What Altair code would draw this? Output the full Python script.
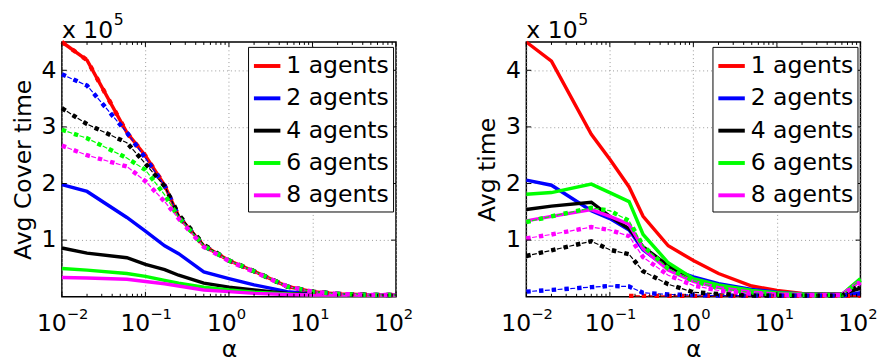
import altair as alt
import pandas as pd

FONT = "DejaVu Sans"

alpha = [0.01, 0.02, 0.06, 0.1, 0.17, 0.25, 0.5, 1, 2, 5, 10, 20, 60, 100]
agents = ["1 agents", "2 agents", "4 agents", "6 agents", "8 agents"]
colors = ["#ff0000", "#0000ff", "#000000", "#00ff00", "#ff00ff"]

# values in units of 1e5
# Left panel (Avg Cover time) - solid lines
L_s1 = [4.5, 4.18, 2.9, 2.49, 1.97, 1.42, 0.9, 0.64, 0.45, 0.18, 0.09, 0.05, 0.03, 0.03]
L_s2 = [1.98, 1.86, 1.4, 1.16, 0.9, 0.76, 0.44, 0.32, 0.21, 0.09, 0.05, 0.03, 0.03, 0.03]
L_s4 = [0.86, 0.77, 0.69, 0.57, 0.48, 0.38, 0.24, 0.17, 0.12, 0.06, 0.04, 0.03, 0.03, 0.03]
L_s6 = [0.5, 0.47, 0.41, 0.36, 0.29, 0.24, 0.17, 0.12, 0.08, 0.05, 0.03, 0.03, 0.03, 0.03]
L_s8 = [0.34, 0.33, 0.31, 0.27, 0.23, 0.19, 0.12, 0.09, 0.06, 0.04, 0.03, 0.03, 0.03, 0.03]
# Left panel - dash-dot lines
L_d1 = [4.5, 4.18, 2.9, 2.49, 1.97, 1.42, 0.9, 0.64, 0.45, 0.18, 0.09, 0.05, 0.03, 0.03]
L_d2 = [3.93, 3.73, 2.9, 2.45, 1.96, 1.42, 0.9, 0.64, 0.45, 0.18, 0.09, 0.05, 0.03, 0.03]
L_d4 = [3.33, 3.05, 2.72, 2.35, 1.95, 1.45, 0.92, 0.64, 0.45, 0.18, 0.09, 0.05, 0.03, 0.03]
L_d6 = [2.95, 2.8, 2.45, 2.24, 1.8, 1.4, 0.9, 0.64, 0.45, 0.18, 0.09, 0.05, 0.03, 0.03]
L_d8 = [2.67, 2.5, 2.3, 2.04, 1.68, 1.38, 0.88, 0.63, 0.44, 0.18, 0.09, 0.05, 0.03, 0.03]

# Right panel (Avg time) - solid lines
R_s1 = [4.5, 4.16, 2.87, 2.43, 1.94, 1.42, 0.9, 0.64, 0.41, 0.19, 0.11, 0.06, 0.04, 0.03]
R_s2 = [2.06, 1.97, 1.52, 1.38, 1.18, 0.83, 0.5, 0.35, 0.23, 0.13, 0.08, 0.05, 0.04, 0.06]
R_s4 = [1.54, 1.6, 1.67, 1.42, 1.2, 0.88, 0.55, 0.29, 0.17, 0.09, 0.06, 0.05, 0.05, 0.15]
R_s6 = [1.81, 1.84, 1.99, 1.84, 1.68, 1.1, 0.6, 0.32, 0.21, 0.11, 0.07, 0.05, 0.04, 0.32]
R_s8 = [1.34, 1.42, 1.54, 1.42, 1.28, 0.85, 0.47, 0.27, 0.16, 0.08, 0.05, 0.04, 0.04, 0.28]
# Right panel - dash-dot lines
R_d1 = [None, None, None, None, 0.015, 0.015, 0.015, 0.015, 0.015, 0.015, 0.015, 0.015, 0.015, 0.015]
R_d2 = [0.09, 0.12, 0.17, 0.19, 0.18, 0.07, 0.04, 0.03, 0.02, 0.02, 0.02, 0.02, 0.02, 0.06]
R_d4 = [0.72, 0.82, 0.98, 0.83, 0.75, 0.45, 0.22, 0.08, 0.05, 0.02, 0.02, 0.02, 0.02, 0.2]
R_d6 = [1.32, 1.42, 1.57, 1.52, 1.34, 0.9, 0.5, 0.28, 0.15, 0.07, 0.04, 0.03, 0.03, 0.3]
R_d8 = [1.03, 1.1, 1.23, 1.18, 1.07, 0.7, 0.38, 0.2, 0.11, 0.05, 0.03, 0.03, 0.03, 0.25]

x_major = [0.01, 0.1, 1, 10, 100]
x_minor = [0.02, 0.03, 0.04, 0.05, 0.06, 0.07, 0.08, 0.09,
           0.2, 0.3, 0.4, 0.5, 0.6, 0.7, 0.8, 0.9,
           2, 3, 4, 5, 6, 7, 8, 9,
           20, 30, 40, 50, 60, 70, 80, 90]
y_major = [1, 2, 3, 4]
x_exp = ["\u22122", "\u22121", "0", "1", "2"]
x_exp_kind = ["neg", "neg", "pos", "pos", "pos"]
scale_base = ["x 10"]
scale_exp = ["5"]

W, H = 341, 260


def to_long(series_list):
    rows = []
    for name, vals in zip(agents, series_list):
        for a, v in zip(alpha, vals):
            if v is not None:
                rows.append({"alpha": a, "value": v, "agents": name})
    return pd.DataFrame(rows)


xscale = alt.Scale(type="log", domain=[0.01, 100], nice=False)
yscale = alt.Scale(domain=[0, 4.5], nice=False, zero=False)
cscale = alt.Scale(domain=agents, range=colors)


def panel(solid, dashdot, ytitle):
    sdf = to_long(solid)
    ddf = to_long(dashdot)

    x_axis = alt.Axis(values=x_major, grid=True, gridDash=[1, 3], gridColor="#999999",
                      labels=False, ticks=False, domain=False, title="α",
                      titleFont=FONT, titleFontSize=24, titleFontWeight="normal",
                      titleColor="black", titlePadding=42)
    y_axis = alt.Axis(values=y_major, grid=True, gridDash=[1, 3], gridColor="#999999",
                      ticks=False, domain=False, title=ytitle,
                      labelFont=FONT, labelFontSize=24, labelColor="black", labelPadding=6,
                      titleFont=FONT, titleFontSize=24, titleFontWeight="normal",
                      titleColor="black", titlePadding=6)
    xa = alt.X("alpha:Q", scale=xscale, axis=x_axis)
    ya = alt.Y("value:Q", scale=yscale, axis=y_axis)
    color_leg = alt.Color("agents:N", scale=cscale,
                          legend=alt.Legend(orient="none", legendX=190, legendY=5, title=None,
                                            labelFont=FONT, labelFontSize=24, labelColor="black",
                                            symbolType="stroke", symbolSize=729, symbolStrokeWidth=4,
                                            strokeColor="black", fillColor="white", padding=4,
                                            rowPadding=5, labelOffset=4, cornerRadius=0))
    color_nl = alt.Color("agents:N", scale=cscale, legend=None)

    solid_layer = alt.Chart(sdf).mark_line(strokeWidth=3.5).encode(x=xa, y=ya, color=color_leg)
    dd_thin = alt.Chart(ddf).mark_line(strokeWidth=1.2, strokeDash=[4, 2, 5, 2]).encode(x=xa, y=ya, color=color_nl)
    dd_thick = alt.Chart(ddf).mark_line(strokeWidth=4.5, strokeDash=[4.5, 8.5]).encode(x=xa, y=ya, color=color_nl)

    xmaj = pd.DataFrame({"alpha": x_major})
    xmin = pd.DataFrame({"alpha": x_minor})
    ymaj = pd.DataFrame({"value": y_major})
    rk = dict(color="black", strokeWidth=1)
    t_xb = alt.Chart(xmaj).mark_rule(**rk).encode(x=xa, y=alt.value(H), y2=alt.value(H - 5))
    t_xt = alt.Chart(xmaj).mark_rule(**rk).encode(x=xa, y=alt.value(0), y2=alt.value(5))
    t_mb = alt.Chart(xmin).mark_rule(**rk).encode(x=xa, y=alt.value(H), y2=alt.value(H - 3))
    t_mt = alt.Chart(xmin).mark_rule(**rk).encode(x=xa, y=alt.value(0), y2=alt.value(3))
    t_yl = alt.Chart(ymaj).mark_rule(**rk).encode(y=ya, x=alt.value(0), x2=alt.value(5))
    t_yr = alt.Chart(ymaj).mark_rule(**rk).encode(y=ya, x=alt.value(W - 5), x2=alt.value(W))

    lab = pd.DataFrame({"alpha": x_major, "exp": x_exp, "kind": x_exp_kind, "base": ["10"] * 5})
    tl = []
    for kind, dx in (("neg", 5), ("pos", 8)):
        base = alt.Chart(lab).transform_filter(alt.datum.kind == kind).mark_text(
            font=FONT, fontSize=24, align="right", baseline="alphabetic", dx=dx, color="black"
        ).encode(x=xa, y=alt.value(295), text="base:N")
        exp = alt.Chart(lab).transform_filter(alt.datum.kind == kind).mark_text(
            font=FONT, fontSize=15, align="left", baseline="alphabetic", dx=dx, color="black"
        ).encode(x=xa, y=alt.value(283), text="exp:N")
        tl += [base, exp]

    sb = alt.Chart(pd.DataFrame({"t": scale_base})).mark_text(
        font=FONT, fontSize=24, align="left", baseline="alphabetic", color="black"
    ).encode(x=alt.value(0), y=alt.value(-4), text="t:N")
    se = alt.Chart(pd.DataFrame({"t": scale_exp})).mark_text(
        font=FONT, fontSize=16, align="left", baseline="alphabetic", color="black"
    ).encode(x=alt.value(53), y=alt.value(-17), text="t:N")

    return alt.layer(solid_layer, dd_thin, dd_thick, t_xb, t_xt, t_mb, t_mt, t_yl, t_yr,
                     *tl, sb, se).properties(width=W, height=H)


left = panel([L_s1, L_s2, L_s4, L_s6, L_s8], [L_d1, L_d2, L_d4, L_d6, L_d8], "Avg Cover time")
right = panel([R_s1, R_s2, R_s4, R_s6, R_s8], [R_d1, R_d2, R_d4, R_d6, R_d8], "Avg time")

chart = alt.hconcat(left, right, spacing=133, bounds="flush").resolve_scale(
    color="independent").resolve_legend(color="independent").properties(
    padding={"left": 2, "top": 0, "right": 2, "bottom": 0}
).configure(font=FONT).configure_view(stroke="black", strokeWidth=1.5)

chart.save("out.html", embed_options={"renderer": "svg", "actions": False})
